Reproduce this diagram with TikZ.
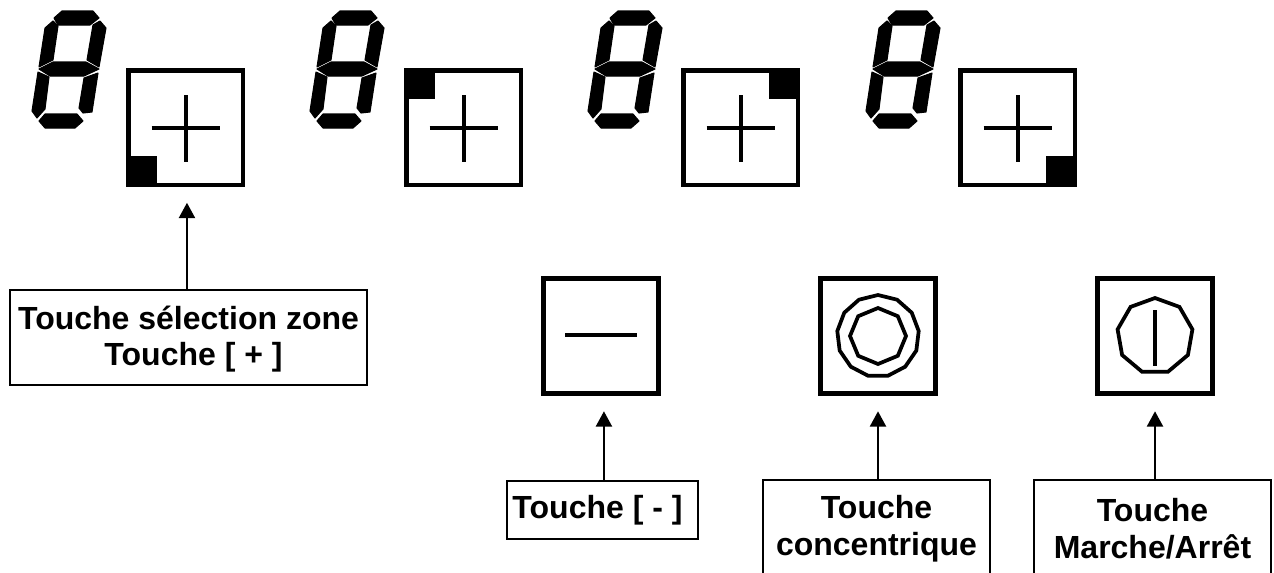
\documentclass[tikz,border=0pt]{standalone}
\usepackage{fontspec}
\setmainfont{Liberation Sans}
\usetikzlibrary{arrows.meta,shapes.geometric}

\tikzset{
  touche/.style={draw,line width=3.4pt,minimum size=85.9pt,inner sep=0pt,outer sep=0pt},
  legende/.style={draw,line width=1.7pt,inner sep=0pt,outer sep=0pt,align=center,
    font=\fontsize{24}{27.7}\selectfont\bfseries},
  fleche/.style={line width=1.7pt,-{Triangle[length=11.5pt,width=12pt]},shorten >=13.5pt},
  anneau/.style={draw,regular polygon,line width=2.8pt,inner sep=0pt},
  trait/.style={line width=3pt},
  segment/.style={fill,draw,line width=0.8pt,line join=round},
  digit/.pic={
    \path[segment] (62,11) -- (93,11) -- (99,18) -- (90,25) -- (58,25) -- (54,18) -- cycle;
    \path[segment] (100,21) -- (106,28) -- (99,67) -- (87,60) -- (93,25) -- cycle;
    \path[segment] (53,21) -- (58,26) -- (53,60) -- (39,67) -- (45,28) -- cycle;
    \path[segment] (39,69) -- (53,62) -- (86,62) -- (99,69) -- (84,76) -- (50,76) -- cycle;
    \path[segment] (38,72) -- (49,77) -- (45,109) -- (37,118) -- (32,111) -- cycle;
    \path[segment] (98,73) -- (92,112) -- (83,113) -- (79,108) -- (84,78) -- cycle;
    \path[segment] (39,121) -- (45,114) -- (77,114) -- (83,121) -- (75,128) -- (45,128) -- cycle;
  }
}

\begin{document}
\begin{tikzpicture}[x=0.75pt,y=-0.75pt]
  \useasboundingbox (0,0) rectangle (1274,572);

  % afficheurs
  \foreach \decal in {0,278,556,834}
    \pic at (\decal,0) {digit};

  % touches de zone
  \foreach \nom/\cx in {ZoneA/185.5,ZoneB/463.5,ZoneC/740.5,ZoneD/1017.5} {
    \node[touche] (\nom) at (\cx,127.5) {};
    \draw[trait] (\cx,95) -- (\cx,162);
    \draw[trait] (\cx-34,127.5) -- (\cx+34,127.5);
  }

  % coins noirs
  \fill (ZoneA.south west) rectangle ++(29,-29);
  \fill (ZoneB.north west) rectangle ++(29,29);
  \fill (ZoneC.north east) rectangle ++(-29,29);
  \fill (ZoneD.south east) rectangle ++(-29,-29);

  % touches du bas
  \node[touche] (Moins) at (601,336) {};
  \node[touche] (Concentrique) at (878,336) {};
  \node[touche] (Marche) at (1155,336) {};

  \draw[trait] (565,335) -- (637,335);
  \node[anneau,regular polygon sides=13,minimum size=61.5pt] (Ext) at (Concentrique) {};
  \node[anneau,regular polygon sides=8,shape border rotate=22.5,minimum size=42pt] (Int) at (Concentrique) {};
  \node[anneau,regular polygon sides=9,minimum size=57pt] (Rond) at (Marche) {};
  \draw[line width=3.2pt] (Rond.center) ++(0,-26) -- ++(0,56);

  % legendes
  \node[legende,minimum width=267.75pt,minimum height=71pt] (LegPlus) at (188.5,337.5)
    {\rule{0pt}{20pt}Touche sélection zone\\\hspace*{7.5pt}Touche [ + ]};
  \node[legende,minimum width=143pt,minimum height=43.5pt] (LegMoins) at (602.5,510)
    {Touche [ - ]\hspace*{7.5pt}};
  \node[legende,minimum width=170pt,minimum height=73.5pt] (LegConc) at (876.5,529)
    {Touche\\concentrique};
  \node[legende,minimum width=178pt,minimum height=73.5pt] (LegMarche) at (1152.5,529)
    {Touche\\Marche/Arrêt};

  % fleches
  \draw[fleche] ([xshift=1.1pt]ZoneA.south |- LegPlus.north) -- ([xshift=1.1pt]ZoneA.south);
  \draw[fleche] ([xshift=2.2pt]Moins.south |- LegMoins.north) -- ([xshift=2.2pt]Moins.south);
  \draw[fleche] (LegConc.north -| Concentrique) -- (Concentrique.south);
  \draw[fleche] (LegMarche.north -| Marche) -- (Marche.south);
\end{tikzpicture}
\end{document}
